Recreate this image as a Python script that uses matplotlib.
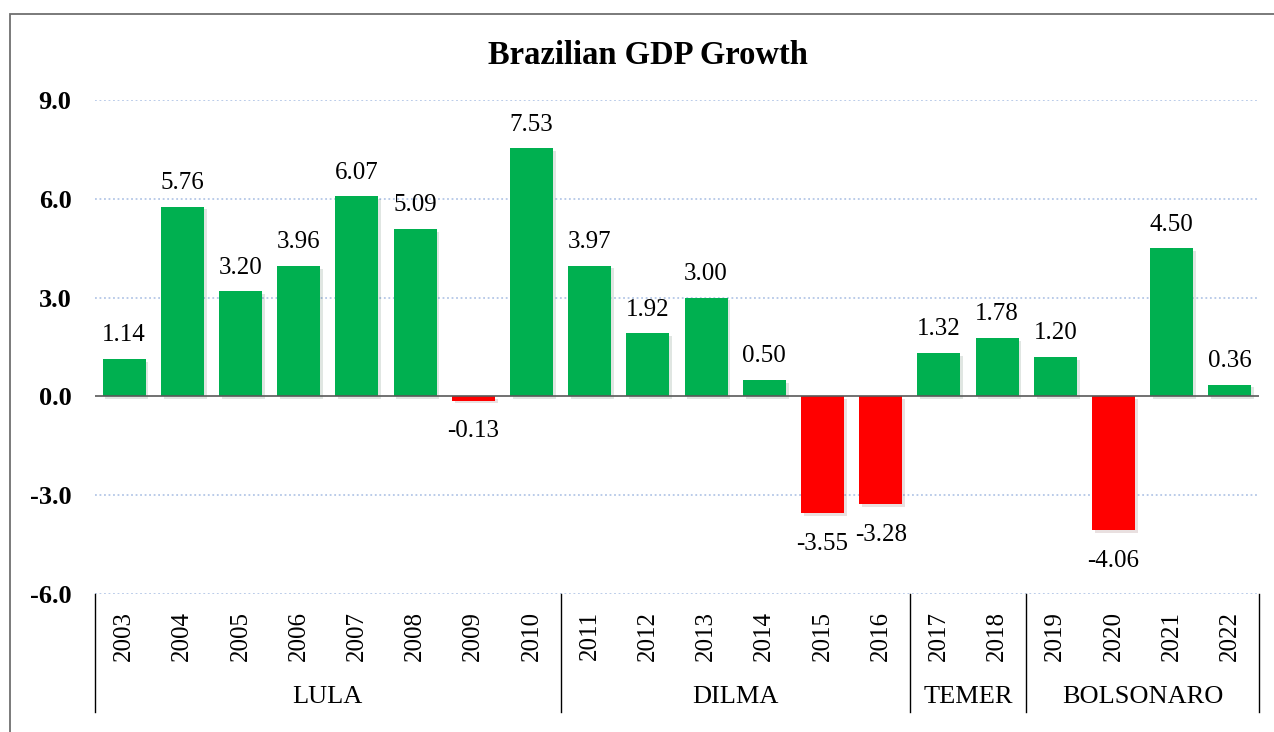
import matplotlib.pyplot as plt
import matplotlib.patheffects as pe
from matplotlib.patches import Rectangle
import numpy as np

plt.rcParams['font.family'] = ['Liberation Serif', 'DejaVu Serif']

# dados
anos = [str(a) for a in range(2003, 2023)]
pib = [1.14, 5.76, 3.20, 3.96, 6.07, 5.09, -0.13, 7.53, 3.97, 1.92,
       3.00, 0.50, -3.55, -3.28, 1.32, 1.78, 1.20, -4.06, 4.50, 0.36]
governos = ['LULA', 'DILMA', 'TEMER', 'BOLSONARO']
anos_por_governo = [8, 6, 2, 4]

fig = plt.figure(figsize=(12.74, 7.32), dpi=100)
ax = fig.add_axes([95/1274, 1 - 594/732, (1259 - 95)/1274, (594 - 100)/732])

# moldura externa
fig.patches.append(Rectangle((10/1274, -0.05), 1.0, 1.05 - 14/732,
                             transform=fig.transFigure, fill=False,
                             edgecolor='#6f6f6f', linewidth=1.3))

x = np.arange(len(anos))
cores = ['#00B050' if v >= 0 else '#FF0000' for v in pib]
barras = ax.bar(x, pib, width=0.74, color=cores, zorder=3)
for b in barras:
    b.set_path_effects([pe.SimplePatchShadow(offset=(2, -2), alpha=0.12), pe.Normal()])

ax.set_xlim(-0.5, len(anos) - 0.5)
ax.set_ylim(-6, 9)
ax.set_yticks([-6, -3, 0, 3, 6, 9])
ax.set_yticklabels([f'{v:.1f}' for v in [-6, -3, 0, 3, 6, 9]],
                   fontsize=19, fontweight='bold')
ax.tick_params(axis='y', length=0, pad=17)
for v in [-6, -3, 3, 6, 9]:
    ax.axhline(v, color='#b4c7e7', linestyle=(0, (1, 1.5)), linewidth=1.3, zorder=1)
ax.axhline(0, color='#595959', linewidth=1.2, zorder=4)

for s in ax.spines.values():
    s.set_visible(False)

ax.set_xticks(x)
ax.set_xticklabels(anos, rotation=90, fontsize=18)
ax.tick_params(axis='x', length=0, pad=12.5)

# rótulos de valor
for xi, v in zip(x, pib):
    if v >= 0:
        ax.annotate(f'{v:.2f}', xy=(xi, v), xytext=(0, 9), textcoords='offset points',
                    ha='center', va='bottom', fontsize=18, zorder=5)
    else:
        ax.annotate(f'{v:.2f}', xy=(xi, v), xytext=(0, -14), textcoords='offset points',
                    ha='center', va='top', fontsize=18, zorder=5,
                    bbox=dict(boxstyle='square,pad=0.05', fc='white', ec='none'))

# separadores e nomes dos governos
trans = ax.get_xaxis_transform()
inicio = -0.5
ax.plot([inicio, inicio], [0, -0.239], color='black', lw=1, transform=trans, clip_on=False)
for nome, n in zip(governos, anos_por_governo):
    fim = inicio + n
    ax.plot([fim, fim], [0, -0.239], color='black', lw=1, transform=trans, clip_on=False)
    ax.text((inicio + fim) / 2, -0.2085, nome, ha='center', va='center',
            fontsize=19, transform=trans)
    inicio = fim

fig.text(648/1274, 1 - 55/732, 'Brazilian GDP Growth', ha='center', va='center',
         fontsize=23.5, fontweight='bold')

plt.savefig('out.png', dpi=100)
